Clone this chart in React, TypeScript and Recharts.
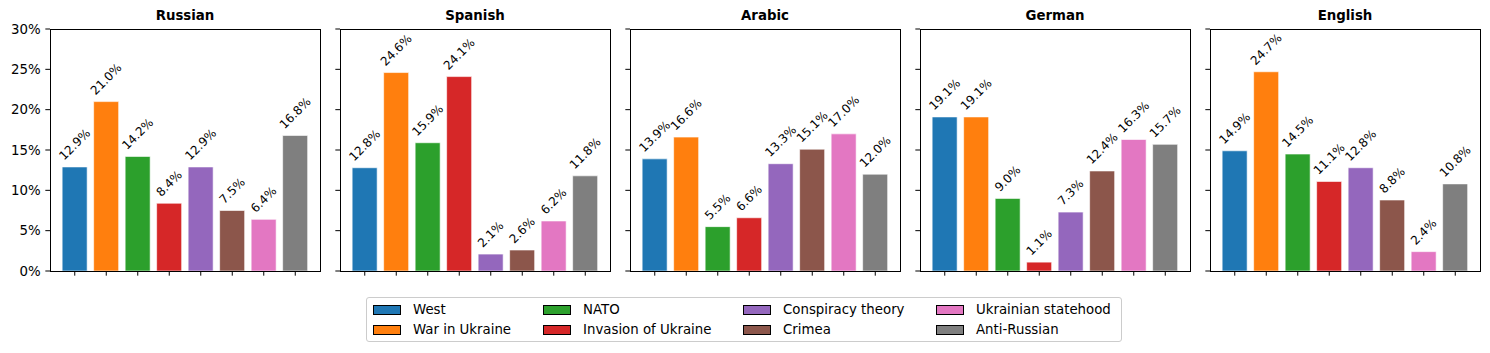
import React from "react";
import { BarChart, Bar, XAxis, YAxis, Cell, LabelList } from "recharts";

const categories = [
  "West",
  "War in Ukraine",
  "NATO",
  "Invasion of Ukraine",
  "Conspiracy theory",
  "Crimea",
  "Ukrainian statehood",
  "Anti-Russian",
];

const colors = ["#1f77b4", "#ff7f0e", "#2ca02c", "#d62728", "#9467bd", "#8c564b", "#e377c2", "#7f7f7f"];

const languages = ["Russian", "Spanish", "Arabic", "German", "English"];

const russian = [12.9, 21.0, 14.2, 8.4, 12.9, 7.5, 6.4, 16.8];
const spanish = [12.8, 24.6, 15.9, 24.1, 2.1, 2.6, 6.2, 11.8];
const arabic = [13.9, 16.6, 5.5, 6.6, 13.3, 15.1, 17.0, 12.0];
const german = [19.1, 19.1, 9.0, 1.1, 7.3, 12.4, 16.3, 15.7];
const english = [14.9, 24.7, 14.5, 11.1, 12.8, 8.8, 2.4, 10.8];

const yTicks = [0, 5, 10, 15, 20, 25, 30];

const seriesByLanguage = [russian, spanish, arabic, german, english];

const FONT = "'DejaVu Sans', sans-serif";
const PLOT_LEFTS = [50, 340, 630, 920, 1210];
const PLOT_TOP = 29;
const PLOT_W = 270;
const PLOT_H = 242;

const charW: Record<string, number> = { ".": 0.318, "%": 0.95 };
function textWidth(s: string, fs: number) {
  let w = 0;
  for (const c of s) w += (charW[c] ?? 0.636) * fs;
  return w;
}

const LABEL_FS = 12;

function BarLabel(props: any) {
  const { x, y, width, value } = props;
  const text = `${Number(value).toFixed(1)}%`;
  const w = textWidth(text, LABEL_FS);
  const H = 1.164 * LABEL_FS;
  const cx = Number(x) + Number(width) / 2;
  const cy = Number(y) - 4 - (w + H) / (2 * Math.SQRT2);
  return (
    <text
      x={cx}
      y={cy}
      textAnchor="middle"
      dominantBaseline="central"
      fontSize={LABEL_FS}
      fontFamily={FONT}
      fill="#000"
      transform={`rotate(-45, ${cx}, ${cy})`}
    >
      {text}
    </text>
  );
}

const EmptyTick = () => <g />;

function Panel({ idx }: { idx: number }) {
  const values = seriesByLanguage[idx];
  const data = categories.map((name, i) => ({ name, value: values[i] }));
  const left = PLOT_LEFTS[idx];
  const showLabels = idx === 0;
  return (
    <>
      <div
        style={{
          position: "absolute",
          left: left,
          top: 8,
          width: PLOT_W,
          textAlign: "center",
          fontFamily: FONT,
          fontWeight: "bold",
          fontSize: 13.33,
          lineHeight: "16px",
          color: "#000",
        }}
      >
        {languages[idx]}
      </div>
      <div style={{ position: "absolute", left: left - 50, top: 0 }}>
        <BarChart
          width={330}
          height={PLOT_TOP + PLOT_H + 12}
          data={data}
          margin={{ top: PLOT_TOP, right: 10, left: 0, bottom: 0 }}
          barCategoryGap="10%"
        >
          <XAxis
            dataKey="name"
            type="category"
            padding={{ left: 9, right: 9 }}
            tick={EmptyTick}
            tickLine={{ stroke: "#000", strokeWidth: 1 }}
            tickSize={4.67}
            axisLine={false}
            height={12}
            interval={0}
          />
          <YAxis
            type="number"
            domain={[0, 30]}
            ticks={yTicks}
            interval={0}
            allowDataOverflow
            width={50}
            tick={showLabels ? { fill: "#000", fontSize: 13.33, fontFamily: FONT } : EmptyTick}
            tickFormatter={(v: number) => `${v}%`}
            tickLine={{ stroke: "#000", strokeWidth: 1 }}
            tickSize={4.67}
            tickMargin={4.67}
            axisLine={false}
          />
          <Bar dataKey="value" isAnimationActive={false} stroke="#ffffff" strokeWidth={0.6}>
            {data.map((d, i) => (
              <Cell key={d.name} fill={colors[i]} />
            ))}
            <LabelList dataKey="value" content={BarLabel} />
          </Bar>
        </BarChart>
      </div>
      <div
        style={{
          position: "absolute",
          left: left,
          top: PLOT_TOP,
          width: PLOT_W + 1,
          height: PLOT_H + 1,
          border: "1px solid #000",
          boxSizing: "border-box",
          pointerEvents: "none",
        }}
      />
    </>
  );
}

const legendCols = [
  [0, 1],
  [2, 3],
  [4, 5],
  [6, 7],
];
const legendColLefts = [6, 176, 376, 569];

function Legend() {
  return (
    <div
      style={{
        position: "absolute",
        left: 366,
        top: 297,
        width: 756,
        height: 45,
        border: "1px solid #cccccc",
        borderRadius: 3,
        boxSizing: "border-box",
        fontFamily: FONT,
        fontSize: 13.33,
        color: "#000",
      }}
    >
      {legendCols.map((col, ci) =>
        col.map((si, ri) => (
          <div
            key={si}
            style={{
              position: "absolute",
              left: legendColLefts[ci],
              top: 4 + ri * 20,
              height: 16,
              display: "flex",
              alignItems: "center",
              whiteSpace: "nowrap",
            }}
          >
            <div
              style={{
                width: 28,
                height: 10,
                background: colors[si],
                border: "1px solid #000",
                boxSizing: "border-box",
                marginRight: 12,
              }}
            />
            <span style={{ lineHeight: "16px" }}>{categories[si]}</span>
          </div>
        ))
      )}
    </div>
  );
}

export default function App() {
  return (
    <div
      style={{
        position: "absolute",
        left: 0,
        top: 0,
        width: 1490,
        height: 353,
        background: "#fff",
        overflow: "hidden",
      }}
    >
      {languages.map((_, i) => (
        <Panel key={i} idx={i} />
      ))}
      <Legend />
    </div>
  );
}
